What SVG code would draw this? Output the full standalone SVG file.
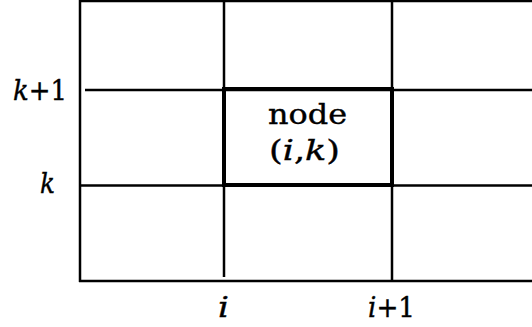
<svg xmlns="http://www.w3.org/2000/svg" width="532" height="327" viewBox="0 0 532 327">
<style>
.g{stroke:#000;stroke-width:2.5;fill:none;stroke-linecap:butt}
.b{stroke:#000;stroke-width:4;fill:none}
text{font-family:"DejaVu Serif","Liberation Serif",serif;fill:#000;font-size:28px;stroke:#000;stroke-width:0.4}
.it{font-style:italic}
</style>
<rect width="532" height="327" fill="#fff" stroke="none"/>
<g id="grid" class="g">
<line x1="80" y1="0" x2="80" y2="282"/>
<line x1="80" y1="1" x2="532" y2="1"/>
<line x1="85" y1="90" x2="532" y2="90"/>
<line x1="80" y1="185.5" x2="532" y2="185.5"/>
<line x1="79" y1="281" x2="532" y2="281"/>
<line x1="224" y1="0" x2="224" y2="277"/>
<line x1="392" y1="0" x2="392" y2="281"/>
</g>
<g id="node">
<rect class="b" x="224" y="89" width="168" height="96"/>
<text x="268" y="124" textLength="79" lengthAdjust="spacingAndGlyphs">node</text>
<text x="269" y="160" textLength="71" lengthAdjust="spacingAndGlyphs">(<tspan class="it">i</tspan>,<tspan class="it">k</tspan>)</text>
</g>
<g id="labels">
<text x="13" y="100" textLength="54" lengthAdjust="spacingAndGlyphs"><tspan class="it">k</tspan>+1</text>
<text x="40" y="193" class="it" textLength="15" lengthAdjust="spacingAndGlyphs">k</text>
<text x="218" y="317" class="it" textLength="11" lengthAdjust="spacingAndGlyphs">i</text>
<text x="368" y="317" textLength="47" lengthAdjust="spacingAndGlyphs"><tspan class="it">i</tspan>+1</text>
</g>
</svg>
